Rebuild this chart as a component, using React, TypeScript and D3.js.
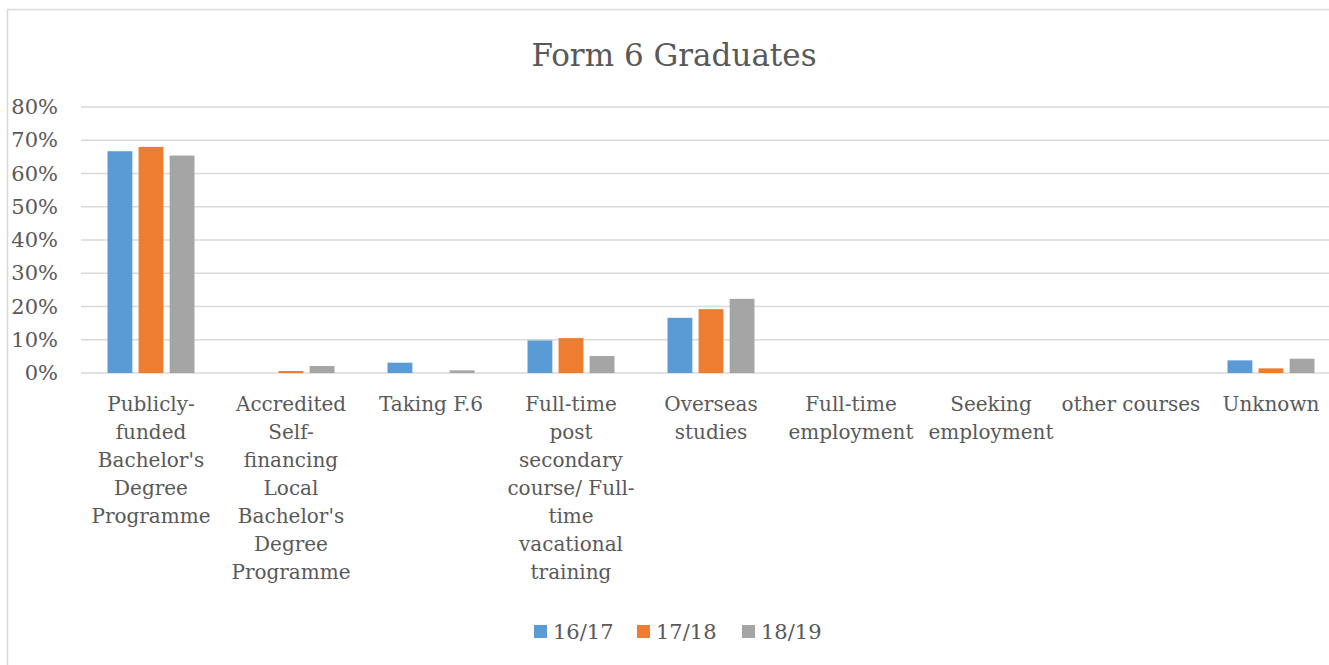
import { useEffect, useRef } from "react";
import * as d3 from "d3";

const categories = [
  ["Publicly-", "funded", "Bachelor's", "Degree", "Programme"],
  ["Accredited", "Self-", "financing", "Local", "Bachelor's", "Degree", "Programme"],
  ["Taking F.6"],
  ["Full-time", "post", "secondary", "course/ Full-", "time", "vacational", "training"],
  ["Overseas", "studies"],
  ["Full-time", "employment"],
  ["Seeking", "employment"],
  ["other courses"],
  ["Unknown"],
];
const seriesNames = ["16/17", "17/18", "18/19"];
const colors = ["#5B9BD5", "#ED7D31", "#A5A5A5"];

const values1617 = [0.667, 0, 0.031, 0.098, 0.166, 0, 0, 0, 0.038];
const values1718 = [0.68, 0.006, 0, 0.105, 0.192, 0, 0, 0, 0.014];
const values1819 = [0.654, 0.021, 0.008, 0.051, 0.223, 0, 0, 0, 0.043];

const yTicks = [0, 0.1, 0.2, 0.3, 0.4, 0.5, 0.6, 0.7, 0.8];

const FONT = "'DejaVu Serif', serif";
const TEXT = "#595959";

const App = () => {
  const svgRef = useRef<SVGSVGElement>(null);

  useEffect(() => {
    const svg = d3.select(svgRef.current);
    svg.selectAll("*").remove();

    const series = [values1617, values1718, values1819];
    const left = 81;
    const step = 140;
    const x0 = d3
      .scaleBand()
      .domain(categories.map((_, i) => String(i)))
      .range([left, left + step * categories.length])
      .padding(0);
    const bw = x0.bandwidth();
    const groupW = 87;
    const x1 = d3
      .scaleBand()
      .domain(seriesNames)
      .range([(bw - groupW) / 2, (bw + groupW) / 2])
      .paddingInner(0.2)
      .paddingOuter(0);
    const y = d3.scaleLinear().domain([0, 0.8]).range([373, 107]);

    // chart border
    svg
      .append("rect")
      .attr("x", 7.5)
      .attr("y", 9.5)
      .attr("width", 1400)
      .attr("height", 700)
      .attr("fill", "white")
      .attr("stroke", "#D9D9D9")
      .attr("stroke-width", 1.5);

    // title
    svg
      .append("text")
      .attr("x", 674)
      .attr("y", 66)
      .attr("text-anchor", "middle")
      .style("font-family", FONT)
      .style("font-size", "31px")
      .attr("fill", TEXT)
      .text("Form 6 Graduates");

    // gridlines
    svg
      .append("g")
      .selectAll("line")
      .data(yTicks)
      .enter()
      .append("line")
      .attr("x1", left)
      .attr("x2", left + step * categories.length)
      .attr("y1", (d) => y(d))
      .attr("y2", (d) => y(d))
      .attr("stroke", "#D9D9D9")
      .attr("stroke-width", 1.3);

    // y labels
    svg
      .append("g")
      .selectAll("text")
      .data(yTicks)
      .enter()
      .append("text")
      .attr("x", 58)
      .attr("y", (d) => y(d) + 7)
      .attr("text-anchor", "end")
      .style("font-family", FONT)
      .style("font-size", "21px")
      .attr("fill", TEXT)
      .text((d) => d3.format(".0%")(d));

    // bars
    series.forEach((vals, si) => {
      svg
        .append("g")
        .selectAll("rect")
        .data(vals)
        .enter()
        .append("rect")
        .attr("x", (_, i) => x0(String(i)) + x1(seriesNames[si]))
        .attr("y", (d) => y(d))
        .attr("width", x1.bandwidth())
        .attr("height", (d) => y(0) - y(d))
        .attr("fill", colors[si]);
    });

    // category labels
    const cat = svg
      .append("g")
      .selectAll("text")
      .data(categories)
      .enter()
      .append("text")
      .attr("text-anchor", "middle")
      .style("font-family", FONT)
      .style("font-size", "20px")
      .attr("fill", TEXT);
    cat
      .selectAll("tspan")
      .data((d, i) => d.map((line) => ({ line, i })))
      .enter()
      .append("tspan")
      .attr("x", (d) => x0(String(d.i)) + bw / 2)
      .attr("y", (_, j) => 411 + j * 28)
      .text((d) => d.line);

    // legend
    const legendX = [534, 637, 742];
    const lg = svg
      .append("g")
      .selectAll("g")
      .data(seriesNames)
      .enter()
      .append("g")
      .attr("transform", (_, i) => `translate(${legendX[i]},625)`);
    lg.append("rect")
      .attr("width", 13)
      .attr("height", 13)
      .attr("fill", (_, i) => colors[i]);
    lg.append("text")
      .attr("x", 19)
      .attr("y", 14)
      .style("font-family", FONT)
      .style("font-size", "21px")
      .attr("fill", TEXT)
      .text((d) => d);
  }, []);

  return (
    <svg
      ref={svgRef}
      width={1329}
      height={665}
      style={{ position: "absolute", left: 0, top: 0 }}
    ></svg>
  );
};

export default App;
